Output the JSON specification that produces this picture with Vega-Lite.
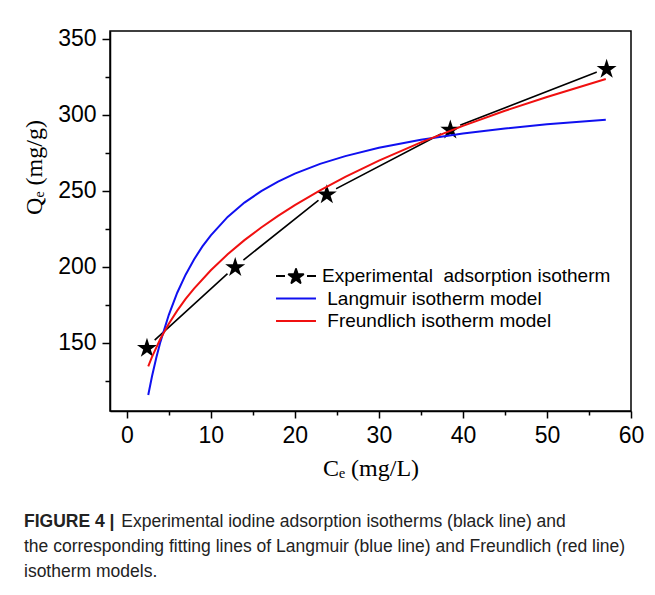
{
  "$schema": "https://vega.github.io/schema/vega-lite/v6.json",
  "width": 521,
  "height": 380,
  "autosize": {"type": "none"},
  "padding": {"left": 110, "top": 31, "right": 24, "bottom": 184},
  "background": "white",
  "config": {
    "view": {"stroke": "black", "strokeWidth": 1.5},
    "axis": {"grid": false}
  },
  "title": {
    "text": "FIGURE 4 |",
    "subtitle": [
      "\u200b\u00a0\u00a0\u00a0\u00a0\u00a0\u00a0\u00a0\u00a0\u00a0\u00a0\u00a0\u00a0\u00a0\u00a0\u00a0\u00a0\u00a0\u00a0\u00a0\u00a0Experimental iodine adsorption isotherms (black line) and",
      "the corresponding fitting lines of Langmuir (blue line) and Freundlich (red line)",
      "isotherm models."
    ],
    "orient": "bottom",
    "anchor": "start",
    "frame": "group",
    "dx": -86,
    "offset": 33,
    "font": "Liberation Sans",
    "fontSize": 17.5,
    "fontWeight": "bold",
    "color": "#222",
    "subtitleFont": "Liberation Sans",
    "subtitleFontSize": 17.5,
    "subtitleFontWeight": "normal",
    "subtitleColor": "#222",
    "subtitlePadding": -17.5,
    "subtitleLineHeight": 25
  },
  "data": {
    "values": [
      {"series": "Experimental\u00a0 adsorption isotherm", "C": 2.4, "Q": 147},
      {"series": "Experimental\u00a0 adsorption isotherm", "C": 12.9, "Q": 200},
      {"series": "Experimental\u00a0 adsorption isotherm", "C": 23.8, "Q": 248},
      {"series": "Experimental\u00a0 adsorption isotherm", "C": 38.5, "Q": 290.5},
      {"series": "Experimental\u00a0 adsorption isotherm", "C": 57.1, "Q": 330.5},
      {"series": "Langmuir isotherm model", "C": 2.55, "Q": 115.5},
      {"series": "Langmuir isotherm model", "C": 3, "Q": 127.9},
      {"series": "Langmuir isotherm model", "C": 3.5, "Q": 139.9},
      {"series": "Langmuir isotherm model", "C": 4, "Q": 150.5},
      {"series": "Langmuir isotherm model", "C": 5, "Q": 168.3},
      {"series": "Langmuir isotherm model", "C": 6, "Q": 182.8},
      {"series": "Langmuir isotherm model", "C": 7, "Q": 194.7},
      {"series": "Langmuir isotherm model", "C": 8, "Q": 204.7},
      {"series": "Langmuir isotherm model", "C": 9, "Q": 213.3},
      {"series": "Langmuir isotherm model", "C": 10, "Q": 220.6},
      {"series": "Langmuir isotherm model", "C": 12, "Q": 232.7},
      {"series": "Langmuir isotherm model", "C": 14, "Q": 242.1},
      {"series": "Langmuir isotherm model", "C": 16, "Q": 249.7},
      {"series": "Langmuir isotherm model", "C": 18, "Q": 255.9},
      {"series": "Langmuir isotherm model", "C": 20, "Q": 261.2},
      {"series": "Langmuir isotherm model", "C": 23, "Q": 267.6},
      {"series": "Langmuir isotherm model", "C": 26, "Q": 272.7},
      {"series": "Langmuir isotherm model", "C": 30, "Q": 278.2},
      {"series": "Langmuir isotherm model", "C": 35, "Q": 283.5},
      {"series": "Langmuir isotherm model", "C": 40, "Q": 287.6},
      {"series": "Langmuir isotherm model", "C": 45, "Q": 290.9},
      {"series": "Langmuir isotherm model", "C": 50, "Q": 293.6},
      {"series": "Langmuir isotherm model", "C": 57, "Q": 296.6},
      {"series": "Freundlich isotherm model", "C": 2.55, "Q": 134.3},
      {"series": "Freundlich isotherm model", "C": 3, "Q": 140.6},
      {"series": "Freundlich isotherm model", "C": 4, "Q": 152.5},
      {"series": "Freundlich isotherm model", "C": 5, "Q": 162.4},
      {"series": "Freundlich isotherm model", "C": 6, "Q": 171.0},
      {"series": "Freundlich isotherm model", "C": 7, "Q": 178.7},
      {"series": "Freundlich isotherm model", "C": 8, "Q": 185.5},
      {"series": "Freundlich isotherm model", "C": 10, "Q": 197.6},
      {"series": "Freundlich isotherm model", "C": 12, "Q": 208.1},
      {"series": "Freundlich isotherm model", "C": 14, "Q": 217.4},
      {"series": "Freundlich isotherm model", "C": 16, "Q": 225.7},
      {"series": "Freundlich isotherm model", "C": 18, "Q": 233.4},
      {"series": "Freundlich isotherm model", "C": 20, "Q": 240.5},
      {"series": "Freundlich isotherm model", "C": 23, "Q": 250.1},
      {"series": "Freundlich isotherm model", "C": 26, "Q": 259.0},
      {"series": "Freundlich isotherm model", "C": 30, "Q": 269.7},
      {"series": "Freundlich isotherm model", "C": 35, "Q": 281.7},
      {"series": "Freundlich isotherm model", "C": 40, "Q": 292.6},
      {"series": "Freundlich isotherm model", "C": 45, "Q": 302.5},
      {"series": "Freundlich isotherm model", "C": 50, "Q": 311.6},
      {"series": "Freundlich isotherm model", "C": 57, "Q": 323.4}
    ]
  },
  "encoding": {
    "x": {
      "field": "C",
      "type": "quantitative",
      "scale": {"domain": [-2, 60], "nice": false, "zero": false},
      "axis": {
        "values": [0, 5, 10, 15, 20, 25, 30, 35, 40, 45, 50, 55, 60],
        "labelExpr": "datum.value % 10 === 0 ? datum.label : ''",
        "tickSize": {"condition": {"test": "datum.value % 10 === 0", "value": 7}, "value": 4},
        "labelPadding": 6,
        "labelFont": "Liberation Sans",
        "labelFontSize": 23,
        "labelColor": "black",
        "labelOverlap": false,
        "labelFlush": false,
        "labelBound": false,
        "domainColor": "black",
        "domainWidth": 1.5,
        "tickColor": "black",
        "tickWidth": 1.5,
        "title": "Cₑ (mg/L)",
        "titleFont": "Liberation Serif",
        "titleFontSize": 24,
        "titleFontWeight": "normal",
        "titleColor": "black",
        "titlePadding": 9
      }
    },
    "y": {
      "field": "Q",
      "type": "quantitative",
      "scale": {"domain": [105, 355], "nice": false, "zero": false},
      "axis": {
        "values": [125, 150, 175, 200, 225, 250, 275, 300, 325, 350],
        "labelExpr": "datum.value % 50 === 0 ? datum.label : ''",
        "tickSize": {"condition": {"test": "datum.value % 50 === 0", "value": 8}, "value": 5},
        "labelPadding": 6,
        "labelFont": "Liberation Sans",
        "labelFontSize": 23,
        "labelColor": "black",
        "labelOverlap": false,
        "labelFlush": false,
        "labelBound": false,
        "domainColor": "black",
        "domainWidth": 1.5,
        "tickColor": "black",
        "tickWidth": 1.5,
        "title": "Qₑ (mg/g)",
        "titleFont": "Liberation Serif",
        "titleFontSize": 24,
        "titleFontWeight": "normal",
        "titleColor": "black",
        "titlePadding": 11,
        "titleY": 136
      }
    }
  },
  "layer": [
    {
      "transform": [{"filter": "indexof(datum.series, 'Experimental') === 0"}],
      "mark": {"type": "line", "strokeWidth": 1.6},
      "encoding": {
        "color": {
          "field": "series",
          "type": "nominal",
          "scale": {
            "domain": ["Experimental\u00a0 adsorption isotherm", "Langmuir isotherm model", "Freundlich isotherm model"],
            "range": ["black", "#1010f0", "#f01010"]
          },
          "legend": {
            "orient": "none",
            "legendX": 176,
            "legendY": 235,
            "title": null,
            "symbolSize": 324,
            "symbolStrokeWidth": 2,
            "labelFont": "Liberation Sans",
            "labelFontSize": 19,
            "labelColor": "black",
            "labelOffset": 16,
            "labelLimit": 400,
            "rowPadding": 2.5,
            "labelExpr": "datum.index === 0 ? datum.label : '\u200b\u00a0' + datum.label",
            "encoding": {
              "symbols": {
                "shape": {"condition": {"test": "datum.index === 0", "value": "M0,-0.77L0.194,-0.187L0.808,-0.183L0.314,0.182L0.5,0.768L0,0.41L-0.5,0.768L-0.314,0.182L-0.808,-0.183L-0.194,-0.187ZM-2.22,0L-1.22,0M1.22,0L2.22,0"}, "value": "M-2.22,0L2.22,0"},
                "fill": {"condition": {"test": "datum.index === 0", "value": "black"}, "value": "transparent"},
                "strokeJoin": {"value": "round"}
              }
            }
          }
        }
      }
    },
    {
      "transform": [{"filter": "indexof(datum.series, 'Experimental') === 0"}],
      "mark": {"type": "point", "shape": "circle", "filled": true, "color": "white", "size": 450, "opacity": 1}
    },
    {
      "transform": [{"filter": "indexof(datum.series, 'Experimental') === 0"}],
      "mark": {"type": "point", "shape": "M0,-0.905L0.223,-0.212L0.951,-0.214L0.361,0.212L0.588,0.904L0,0.475L-0.588,0.904L-0.361,0.212L-0.951,-0.214L-0.223,-0.212Z", "filled": true, "color": "black", "size": 441, "opacity": 1, "strokeWidth": 0}
    },
    {
      "transform": [{"filter": "indexof(datum.series, 'Experimental') !== 0"}],
      "mark": {"type": "line", "strokeWidth": 2},
      "encoding": {
        "color": {
          "field": "series",
          "type": "nominal",
          "scale": {
            "domain": ["Experimental\u00a0 adsorption isotherm", "Langmuir isotherm model", "Freundlich isotherm model"],
            "range": ["black", "#1010f0", "#f01010"]
          },
          "legend": {
            "orient": "none",
            "legendX": 176,
            "legendY": 235,
            "title": null,
            "symbolSize": 324,
            "symbolStrokeWidth": 2,
            "labelFont": "Liberation Sans",
            "labelFontSize": 19,
            "labelColor": "black",
            "labelOffset": 16,
            "labelLimit": 400,
            "rowPadding": 2.5,
            "labelExpr": "datum.index === 0 ? datum.label : '\u200b\u00a0' + datum.label",
            "encoding": {
              "symbols": {
                "shape": {"condition": {"test": "datum.index === 0", "value": "M0,-0.77L0.194,-0.187L0.808,-0.183L0.314,0.182L0.5,0.768L0,0.41L-0.5,0.768L-0.314,0.182L-0.808,-0.183L-0.194,-0.187ZM-2.22,0L-1.22,0M1.22,0L2.22,0"}, "value": "M-2.22,0L2.22,0"},
                "fill": {"condition": {"test": "datum.index === 0", "value": "black"}, "value": "transparent"},
                "strokeJoin": {"value": "round"}
              }
            }
          }
        }
      }
    }
  ]
}
